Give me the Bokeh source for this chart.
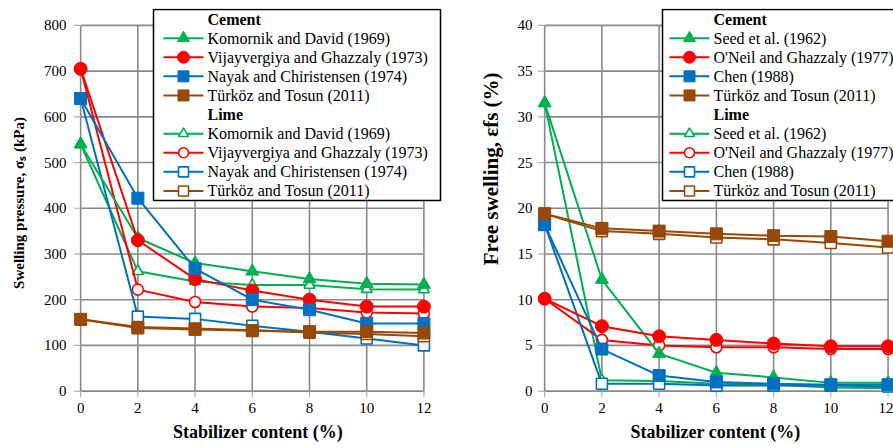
from bokeh.plotting import figure
from bokeh.layouts import row
from bokeh.models import Range1d, FixedTicker
from bokeh.core.properties import value
from bokeh.embed import file_html
from bokeh.resources import INLINE

# ---------------- data ----------------
x_content = [0, 2, 4, 6, 8, 10, 12]

# Left: swelling pressure (kPa)
sp_names = ["Komornik and David (1969)", "Vijayvergiya and Ghazzaly (1973)",
            "Nayak and Chiristensen (1974)", "Türköz and Tosun (2011)"]
sp_cement_komornik = [540, 335, 280, 262, 245, 235, 233]
sp_cement_vijay = [705, 330, 245, 220, 200, 185, 185]
sp_cement_nayak = [640, 422, 268, 200, 178, 148, 148]
sp_cement_turkoz = [157, 138, 135, 132, 130, 130, 127]
sp_lime_komornik = [540, 262, 240, 232, 232, 223, 222]
sp_lime_vijay = [705, 222, 195, 185, 182, 172, 170]
sp_lime_nayak = [640, 163, 158, 143, 130, 115, 100]
sp_lime_turkoz = [157, 140, 137, 133, 128, 125, 120]
sp_yticks = [0, 100, 200, 300, 400, 500, 600, 700, 800]

# Right: free swelling (%)
fs_names = ["Seed et al. (1962)", "O'Neil and Ghazzaly  (1977)",
            "Chen (1988)", "Türköz and Tosun (2011)"]
fs_cement_seed = [31.5, 12.2, 4.1, 2.0, 1.5, 0.9, 0.9]
fs_cement_oneil = [10.1, 7.1, 6.0, 5.6, 5.2, 4.9, 4.9]
fs_cement_chen = [18.2, 4.6, 1.7, 1.0, 0.8, 0.7, 0.7]
fs_cement_turkoz = [19.4, 17.8, 17.5, 17.2, 17.0, 16.9, 16.4]
fs_lime_seed = [31.5, 1.2, 1.1, 0.8, 0.7, 0.4, 0.3]
fs_lime_oneil = [10.1, 5.6, 5.0, 4.8, 4.8, 4.6, 4.6]
fs_lime_chen = [18.2, 0.8, 0.8, 0.6, 0.6, 0.6, 0.5]
fs_lime_turkoz = [19.4, 17.5, 17.2, 16.8, 16.6, 16.2, 15.7]
fs_yticks = [0, 5, 10, 15, 20, 25, 30, 35, 40]

x_ticks = [0, 2, 4, 6, 8, 10, 12]
group_names = ["Cement", "Lime"]

# ---------------- style ----------------
GREEN = "#00B050"
RED = "#FF0000"
BLUE = "#0070C0"
BROWN = "#984807"
COLORS = [GREEN, RED, BLUE, BROWN]
MARKERS = ["triangle", "circle", "square", "square"]
FILLED_SIZE = {"triangle": 13, "circle": 13, "square": 12}
HOLLOW_SIZE = {"triangle": 11, "circle": 11, "square": 11}
GRID = "#898989"
STUB = "#b0b0b0"
FONT = "'Liberation Serif'"
XSTUB = 0.25
FIG_H = 448
B_TOP = 8
B_BOTTOM = 51


def make_panel(width, x_end, y_range, yticks, ystub, cement, lime, names, ylabel,
               ylabel_size, border_left, border_right, leg_box, leg_glyph_dx,
               ylab_standoff, ytick_standoff):
    y_start, y_end = y_range
    p = figure(width=width, height=FIG_H, output_backend="svg",
               toolbar_location=None,
               x_range=Range1d(-XSTUB, x_end), y_range=Range1d(y_start, y_end),
               min_border_left=border_left, min_border_right=border_right,
               min_border_top=B_TOP, min_border_bottom=B_BOTTOM)
    p.outline_line_color = None
    p.xgrid.visible = False
    p.ygrid.visible = False

    # screen-pixel (relative to frame top-left) -> data helpers for the legend
    frame_w = width - border_left - border_right
    frame_h = FIG_H - B_TOP - B_BOTTOM
    kx = (x_end + XSTUB) / frame_w
    ky = (y_end - y_start) / frame_h

    def dx(px):
        return -XSTUB + px * kx

    def dy(py):
        return y_end - py * ky

    x0, x1 = x_ticks[0], x_ticks[-1]
    y0, y1 = yticks[0], yticks[-1]
    # grid lines (Excel-like, bounded to the data area)
    p.segment(x0=[x0] * len(yticks), y0=yticks, x1=[x1] * len(yticks), y1=yticks,
              line_color=GRID, line_width=1.6)
    p.segment(x0=x_ticks, y0=[y0] * len(x_ticks), x1=x_ticks, y1=[y1] * len(x_ticks),
              line_color=GRID, line_width=1.6)
    # tick stubs
    p.segment(x0=[x0 - XSTUB] * len(yticks), y0=yticks, x1=[x0] * len(yticks), y1=yticks,
              line_color=STUB, line_width=1.2)
    p.segment(x0=x_ticks, y0=[y0 - ystub] * len(x_ticks), x1=x_ticks, y1=[y0] * len(x_ticks),
              line_color=STUB, line_width=1.2)

    for ys, col, mk in zip(lime, COLORS, MARKERS):
        p.line(x_content, ys, line_color=col, line_width=2)
        p.scatter(x_content, ys, marker=mk, size=HOLLOW_SIZE[mk], line_color=col,
                  fill_color="white", line_width=1.6)
    for ys, col, mk in zip(cement, COLORS, MARKERS):
        p.line(x_content, ys, line_color=col, line_width=2)
        p.scatter(x_content, ys, marker=mk, size=FILLED_SIZE[mk], line_color=col,
                  fill_color=col, line_width=1)

    # ---------- legend (drawn with glyphs so that headers can be bold) ----------
    bl, bt, br, bb = leg_box            # pixels relative to frame top-left
    p.quad(left=[dx(bl)], right=[dx(br)], top=[dy(bt)], bottom=[dy(bb)],
           fill_color="white", line_color="black", line_width=1.5)
    row_h = (bb - bt) / 10.0
    g0 = bl + leg_glyph_dx
    g1 = g0 + 40
    tx = g1 + 4
    r = 0
    for gi, grp in enumerate(group_names):
        cy = bt + row_h * (r + 0.5)
        p.text(x=[dx(tx)], y=[dy(cy)], text=[grp], text_font=value(FONT),
               text_font_size="16px", text_font_style="bold",
               text_baseline="middle", text_align="left", text_color="black")
        r += 1
        for nm, col, mk in zip(names, COLORS, MARKERS):
            cy = bt + row_h * (r + 0.5)
            p.segment(x0=[dx(g0)], y0=[dy(cy)], x1=[dx(g1)], y1=[dy(cy)],
                      line_color=col, line_width=2)
            if gi == 0:
                p.scatter([dx((g0 + g1) / 2)], [dy(cy)], marker=mk, size=FILLED_SIZE[mk] - 1,
                          line_color=col, fill_color=col, line_width=1)
            else:
                p.scatter([dx((g0 + g1) / 2)], [dy(cy)], marker=mk, size=HOLLOW_SIZE[mk] - 1,
                          line_color=col, fill_color="white", line_width=1.6)
            p.text(x=[dx(tx)], y=[dy(cy)], text=[nm], text_font=value(FONT),
                   text_font_size="16px", text_baseline="middle", text_align="left",
                   text_color="black")
            r += 1

    for ax in (p.xaxis[0], p.yaxis[0]):
        ax.axis_line_color = None
        ax.major_tick_line_color = None
        ax.minor_tick_line_color = None
        ax.major_tick_out = 0
        ax.major_tick_in = 0
        ax.major_label_text_font = FONT
        ax.major_label_text_font_size = "15px"
        ax.major_label_text_color = "black"
        ax.axis_label_text_font = FONT
        ax.axis_label_text_font_style = "bold"
        ax.axis_label_text_color = "black"
    p.xaxis.ticker = FixedTicker(ticks=x_ticks)
    p.yaxis.ticker = FixedTicker(ticks=yticks)
    p.xaxis.major_label_standoff = 5
    p.yaxis.major_label_standoff = ytick_standoff
    p.xaxis.axis_label = "Stabilizer content (%)"
    p.xaxis.axis_label_text_font_size = "18px"
    p.xaxis.axis_label_standoff = 6
    p.yaxis.axis_label = ylabel
    p.yaxis.axis_label_text_font_size = ylabel_size
    p.yaxis.axis_label_standoff = ylab_standoff
    return p


p1 = make_panel(450, 12.65, (-14, 837), sp_yticks, 14,
                [sp_cement_komornik, sp_cement_vijay, sp_cement_nayak, sp_cement_turkoz],
                [sp_lime_komornik, sp_lime_vijay, sp_lime_nayak, sp_lime_turkoz],
                sp_names, "Swelling pressure, σₛ (kPa)", "15px",
                73, 8, (80, 1, 367, 192), 10, 14, 7)
p2 = make_panel(443, 12.19, (-0.7, 41.85), fs_yticks, 0.7,
                [fs_cement_seed, fs_cement_oneil, fs_cement_chen, fs_cement_turkoz],
                [fs_lime_seed, fs_lime_oneil, fs_lime_chen, fs_lime_turkoz],
                fs_names, "\u00a0" * 13 + "Free swelling, εfs (%)", "21px",
                87, 0, (125, 1, 400, 192), 7, 12, 5)

layout = row(p1, p2)
open("out.html", "w").write(file_html(layout, INLINE))
